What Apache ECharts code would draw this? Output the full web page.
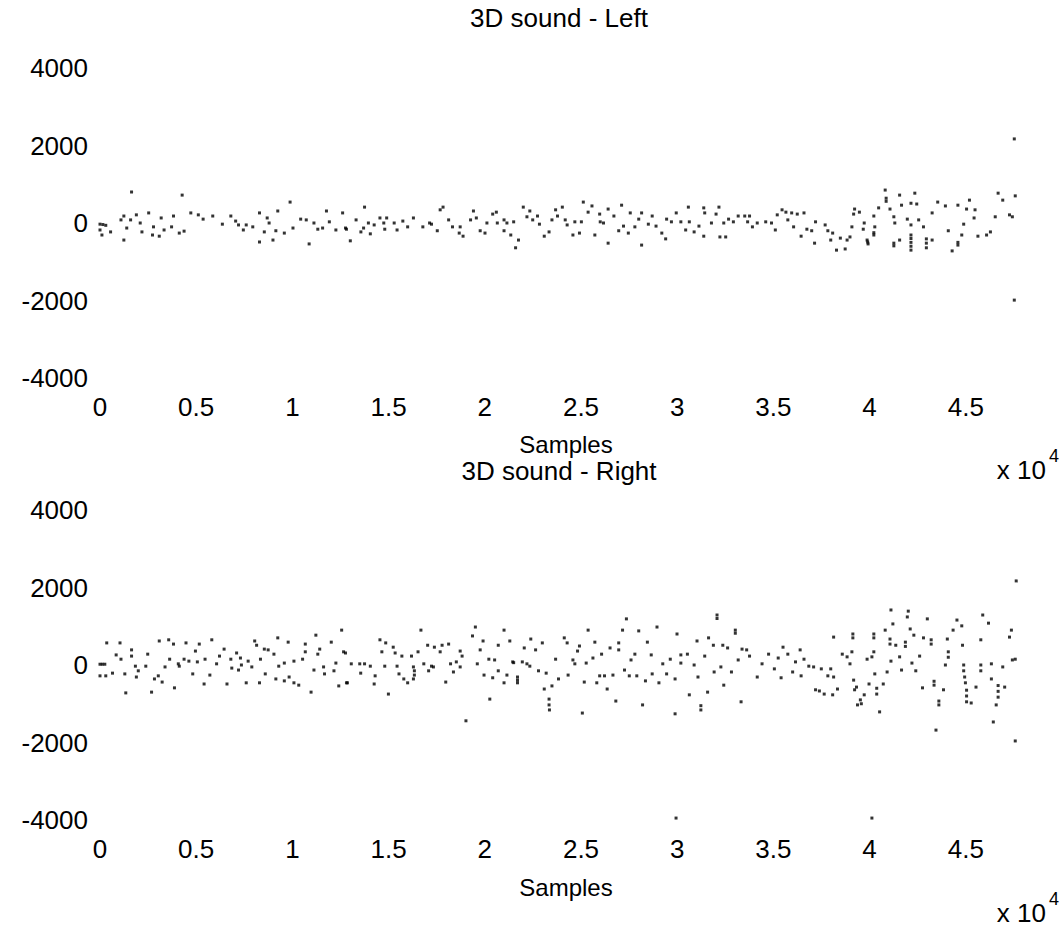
<!DOCTYPE html>
<html><head><meta charset="utf-8">
<script src="https://cdn.jsdelivr.net/npm/echarts@6/dist/echarts.min.js"></script>
<style>html,body{margin:0;padding:0;background:#fff}#c{width:1062px;height:939px}</style>
</head><body><div id="c"></div>
<script>
// ---- data (samples, amplitude) ----
const xTickLabels = ['0','0.5','1','1.5','2','2.5','3','3.5','4','4.5','5'];
const yTickValues = [-4000,-2000,0,2000,4000];
const leftX = [0,150,300,0,100,550,1240,1090,1390,1240,1640,1590,1890,2090,2180,2530,2780,2730,3080,3180,3330,3820,3720,4120,4370,4270,4720,5110,5360,5860,6360,6800,7050,7200,7450,7600,7940,8290,8290,8540,8690,8790,8990,9140,9240,9580,9880,10030,10430,10720,10870,11120,11320,11570,11770,11920,12260,12610,12760,12810,13010,13310,13560,13750,13700,13950,14050,14250,14550,14750,14900,14800,15290,15440,15740,15990,16290,16780,17130,17230,17530,17680,17830,18120,18320,18720,18670,18870,19410,19260,19560,19760,20010,20110,20410,20600,20650,21000,21000,21150,21350,21500,21600,21750,22000,22190,22340,22490,22740,22840,23090,23340,23490,23680,23780,24030,24180,24280,24580,24680,24920,25020,25120,25370,25570,25720,25970,26000,26170,26410,26410,26710,26960,27110,27210,27460,27560,27800,28000,28150,28150,28500,28700,28900,29200,29400,29450,29700,29950,30190,30580,30630,30440,30880,31130,31380,31380,31430,31780,32020,32170,32220,32520,32420,32670,32920,33170,33510,33660,33760,33910,34160,34600,34900,35100,35200,35450,35650,35750,35950,36050,36240,36440,36590,36740,36990,37140,37190,37690,37830,37980,38080,38280,38480,38730,38830,38980,39080,39220,39170,39470,39720,39670,39870,39920,40220,40270,40220,40470,40810,40860,41060,41260,41310,41260,41560,41560,41660,41960,42150,42150,42150,42150,42350,42450,42550,42800,42950,42950,43250,43250,43540,43940,44090,44290,44590,44590,44790,44890,45040,45190,45430,45480,45630,46080,46280,46530,46680,46920,47270,47420,47570,39900,40220,42150,42150,42150,40860,44590,42950,41260,25170,29940,34950,47520,47520,47520];
const leftY = [-30,-40,-60,-180,-310,-230,180,80,-130,-440,800,80,210,0,-230,260,-100,-310,-340,130,-180,180,-100,-260,-210,720,260,210,100,180,-30,180,50,-50,-180,-50,-100,260,-490,-230,130,0,-440,-200,310,-260,540,-130,100,80,-540,0,-160,-130,310,30,-180,260,-130,-160,-460,80,-230,410,-130,0,-280,-50,130,0,130,-160,0,-180,50,-100,130,-100,0,-30,-200,340,410,80,-100,-100,-260,-340,310,80,130,-200,-260,0,230,280,0,-200,80,0,-310,30,-640,-440,410,160,310,80,180,-30,-340,-230,80,340,180,410,80,-50,-310,30,-260,30,540,280,440,-310,230,30,0,360,-520,180,-200,460,-80,-260,260,-100,100,-570,260,-30,180,-80,-260,-410,100,30,260,30,410,30,-180,-230,-80,-340,390,260,0,230,410,-360,-360,0,100,30,180,180,30,180,-100,0,30,0,-180,210,340,280,80,260,-100,230,-340,260,-160,-200,-520,30,-50,-200,-440,-260,-700,-390,-670,-440,-360,-100,360,230,280,0,-160,-440,-540,180,-100,-310,390,850,640,360,160,0,-590,720,-440,460,100,510,-50,-310,-700,770,490,80,-100,-410,-640,260,-440,540,440,-200,-720,460,-570,-310,-30,360,590,130,340,-340,-310,-230,160,770,590,210,160,700,-490,-250,-400,-500,-600,560,-500,-520,-520,4050,4050,4130,4130,2170,-1990];
const rightX = [0,120,250,350,1040,840,1090,0,300,650,1340,1290,1640,1640,1840,1990,1890,2380,2480,2680,2830,3080,3030,3230,3380,3620,3570,3820,3870,4070,4120,4370,4470,4620,4820,4960,5060,5160,5460,5410,5710,5810,6060,6210,6450,6600,6800,6850,7100,7200,7300,7350,7600,7700,7890,8040,8140,8290,8340,8540,8590,8740,9040,9140,9240,9290,9580,9580,9780,9830,10080,10080,10330,10530,10670,10670,10970,11220,11420,11320,11120,11620,11670,12020,12260,12160,12410,12560,12760,12810,12660,12860,13060,13500,13550,13750,14050,14250,14300,14550,14650,14800,14850,14990,15240,15340,15440,15540,15690,15790,15990,16190,16290,16340,16290,16340,16530,16680,16830,17030,17080,17230,17380,17330,17680,17780,17970,18120,18220,18370,18520,18720,18720,18820,19020,19360,19510,19610,19760,19910,19960,20210,20260,20410,20510,20700,20700,21000,21000,21150,21300,21450,21500,21700,21700,21700,21950,22050,22190,22390,22340,22640,22790,22990,23090,23190,23340,23340,23360,23490,23680,23830,24130,24280,24330,24580,24680,24820,24920,25070,25170,25270,25370,25620,25720,25820,25970,26070,26220,26360,26510,26660,26810,26960,26960,27160,27260,27360,27510,27600,27800,27900,28000,28200,28350,28450,28650,28700,28950,29050,29250,29450,29640,29890,29890,29990,30190,30190,30530,30630,30880,31080,31030,31230,31230,31430,31580,31630,31880,31920,32070,32070,32270,32370,32420,32620,32820,33020,33020,33170,33320,33370,33610,33760,34160,34410,34750,35050,35250,35500,35400,35750,36000,36150,36390,36440,36590,36840,37090,37190,37390,37490,37640,37830,37980,38080,38130,38130,38330,38580,38830,38980,39080,39130,39130,39170,39220,39320,39370,39570,39520,39720,39870,39970,40120,40220,40220,40220,40270,40370,40370,40520,40710,40810,40910,41060,41060,41110,41110,41210,41360,41560,41660,41860,41860,41960,42010,42110,42200,42300,42400,42600,42750,42800,43000,43200,43200,43350,43350,43450,43600,43600,43840,43940,44040,44090,44090,44340,44540,44790,44830,44890,44890,44940,44980,45040,45040,45040,45280,45530,45780,45780,45780,45880,46180,46330,46330,46430,46580,46680,46680,46680,46920,47020,47270,47370,47420,47570,47620,47570,5210,15540,25270,29790,32970,29940,40120];
const rightY = [20,20,20,570,570,260,150,-280,-280,-210,-720,-230,390,230,-30,-150,-310,-30,280,-700,-360,620,-280,-440,-50,150,650,540,-590,30,-30,150,570,100,-230,360,80,540,150,-490,-260,650,30,230,410,-490,150,-80,310,-130,180,0,-460,100,-50,620,510,-460,150,410,-230,390,280,-360,700,-30,50,-410,590,-310,100,-460,-520,150,340,540,-700,770,410,280,-130,-50,-230,590,50,-150,-540,900,310,-460,340,-460,30,30,-210,30,-30,-490,-280,650,340,-30,570,-750,460,310,-30,-230,230,-360,-460,230,-50,-260,-360,-150,340,900,30,510,-150,-30,460,-50,340,510,-440,540,30,-180,80,360,-50,230,-1440,750,980,30,390,620,-260,150,-880,-330,130,-150,510,900,-460,-260,620,80,60,-460,-310,-390,80,440,30,670,-30,390,-150,570,-620,-210,-880,-1030,-1160,-540,150,-360,700,570,-260,130,30,360,490,-1240,-440,50,900,180,590,-460,-280,280,-280,-620,440,-260,-930,570,390,900,-130,1190,-280,130,280,-280,880,-1030,-410,590,260,-230,980,-460,30,-230,150,-1260,-360,800,50,260,280,-770,0,-310,620,-1160,-1050,230,-700,700,510,-180,1290,1200,-50,510,-520,440,-180,900,820,130,-950,410,390,230,-310,30,280,-100,180,460,-330,280,-180,80,390,-280,150,-30,-50,-640,-670,-100,-750,-280,-100,-770,720,-310,-620,280,210,30,340,800,700,-390,-640,-570,-1030,-1000,-900,-770,150,-490,210,800,700,340,-230,-750,-600,-1210,-490,900,-180,670,540,1420,100,1060,510,210,-130,590,480,1240,1390,930,50,770,-150,230,-590,700,1190,650,540,-520,-420,-1680,-1030,-930,-640,0,670,340,200,900,1160,1010,510,0,-150,-310,-460,-950,-800,-650,-980,-570,650,0,-150,1290,1080,30,-360,-1470,-1030,-830,-680,-530,-50,-570,720,900,130,150,2170,-1960,4050,4050,4050,4100,4050,-3950,-3950];

const FONT = '"Liberation Sans", Arial, Helvetica, sans-serif';
const pairs = (xs, ys) => xs.map((x, i) => [x, ys[i]]);

const chart = echarts.init(document.getElementById('c'), null, {renderer: 'svg'});

const xAxisFor = gi => ({
  gridIndex: gi, type: 'value', min: 0, max: 50000, interval: 5000,
  axisLine: {show: false}, axisTick: {show: false}, splitLine: {show: false},
  axisLabel: {showMaxLabel: false, margin: 16, fontSize: 26, color: '#000', fontFamily: FONT,
    formatter: v => xTickLabels[Math.round(v / 5000)]}
});
const yAxisFor = gi => ({
  gridIndex: gi, type: 'value', min: yTickValues[0], max: yTickValues[yTickValues.length - 1], interval: 2000,
  axisLine: {show: false}, axisTick: {show: false}, splitLine: {show: false},
  axisLabel: {margin: 12, fontSize: 26, color: '#000', fontFamily: FONT, formatter: v => String(v)}
});

const txt = (x, y, text, size, align) => ({
  type: 'text', x: x, y: y, silent: true,
  style: {text: text, fontSize: size, fontFamily: FONT, fill: '#000', textAlign: align || 'center', textVerticalAlign: 'middle'}
});

chart.setOption({
  animation: false,
  backgroundColor: '#fff',
  grid: [
    {left: 100, top: 68, width: 1007, height: 310},
    {left: 100, top: 510, width: 1007, height: 310}
  ],
  xAxis: [xAxisFor(0), xAxisFor(1)],
  yAxis: [yAxisFor(0), yAxisFor(1)],
  series: [
    {type: 'scatter', xAxisIndex: 0, yAxisIndex: 0, symbol: 'rect', symbolSize: [3, 3],
     itemStyle: {color: '#000'}, silent: true, data: pairs(leftX, leftY)},
    {type: 'scatter', xAxisIndex: 1, yAxisIndex: 1, symbol: 'rect', symbolSize: [3, 3],
     itemStyle: {color: '#000'}, silent: true, data: pairs(rightX, rightY)}
  ],
  graphic: [
    txt(559, 18, '3D sound - Left', 26),
    txt(566, 444, 'Samples', 24),
    txt(1046, 470, 'x 10', 26, 'right'),
    txt(1049, 456, '4', 18, 'left'),
    txt(559, 471, '3D sound - Right', 26),
    txt(566, 887, 'Samples', 24),
    txt(1046, 913, 'x 10', 26, 'right'),
    txt(1049, 899, '4', 18, 'left')
  ]
});
</script></body></html>
